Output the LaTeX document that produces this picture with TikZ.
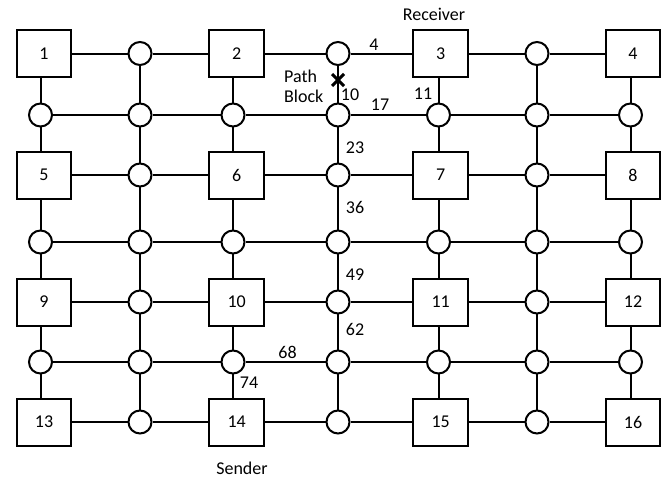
\documentclass[tikz,border=0pt]{standalone}
\usepackage{fontspec}
\setmainfont{Carlito}
\usetikzlibrary{backgrounds,calc}
\begin{document}
\begin{tikzpicture}[x=1pt,y=-1pt,line width=2pt,
  txt/.style={font=\fontsize{18}{20}\selectfont},
  sq/.style={draw,fill=white,minimum width=54.7pt,minimum height=47pt,inner sep=0pt,txt},
  ci/.style={draw,fill=white,circle,minimum size=23pt,inner sep=0pt},
  lbl/.style={anchor=base,inner sep=0pt,txt},
  link/.style={line width=2pt},
  blockmark/.style={line width=3pt}]
\useasboundingbox (0,0) rectangle (667,477);
% grid nodes
\foreach \r/\y in {0/53.5,1/115,2/175,3/242,4/302,5/362,6/422} {
  \foreach \c/\x/\sx in {0/40.5/44,1/140/140,2/233/236.7,3/338/338,4/438.5/440.7,5/537/537,6/630.5/633} {
    \pgfmathtruncatemacro\isq{and(mod(\r,2)==0,mod(\c,2)==0)}
    \ifnum\isq=1
      \pgfmathtruncatemacro\num{(\r/2)*4+\c/2+1}
      \node[sq] (n\r\c) at (\sx,\y) {\num};
    \else
      \node[ci] (n\r\c) at (\x,\y) {};
    \fi
  }
}
% links
\begin{pgfonlayer}{background}
\foreach \r in {0,...,6} {
  \foreach \c [evaluate=\c as \cc using int(\c+1)] in {0,...,5} {
    \draw[link] (n\r\c) -- (n\r\cc);
  }
}
\foreach \c in {0,...,6} {
  \foreach \r [evaluate=\r as \rr using int(\r+1)] in {0,...,5} {
    \draw[link] (n\r\c -| n1\c) -- (n\rr\c -| n1\c);
  }
}
\end{pgfonlayer}
% path block mark
\coordinate (blk) at (338,80);
\draw[blockmark] ($(blk)+(-6,-6)$) -- ($(blk)+(6,6)$);
\draw[blockmark] ($(blk)+(-6,6)$) -- ($(blk)+(6,-6)$);
% labels
\node[lbl] (recv) at (434,20) {Receiver};
\node[lbl] (send) at (242,474) {Sender};
\node[lbl,anchor=base west] (path) at (284,82) {Path};
\node[lbl,anchor=base west] (block) at (284,102) {Block};
\node[lbl] (l4) at (374,50) {4};
\node[lbl] (l10) at (350,100) {10};
\node[lbl] (l11) at (423,99) {11};
\node[lbl] (l17) at (380,110) {17};
\node[lbl] (l23) at (355,153) {23};
\node[lbl] (l36) at (355,213) {36};
\node[lbl] (l49) at (355,280) {49};
\node[lbl] (l62) at (355,335) {62};
\node[lbl] (l68) at (287.5,358) {68};
\node[lbl] (l74) at (249,388) {74};
\end{tikzpicture}
\end{document}
